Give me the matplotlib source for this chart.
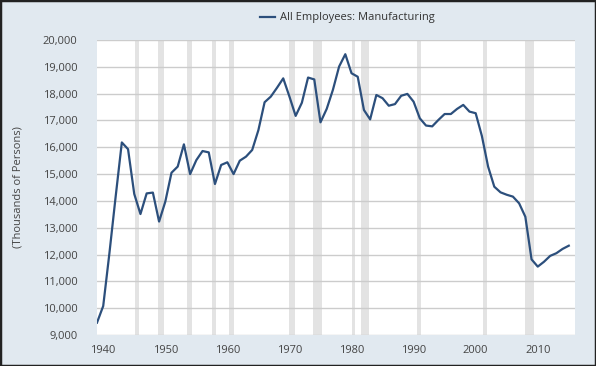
import numpy as np
import matplotlib.pyplot as plt
from matplotlib.patches import Rectangle
from matplotlib.ticker import FuncFormatter

# annual values, thousands of persons
years = list(range(1939, 2016))
employees = [
    9460, 10080, 12050, 14150, 16180, 15930, 14260, 13510, 14280, 14310,
    13230, 13970, 15050, 15280, 16110, 15000, 15520, 15860, 15810, 14630,
    15340, 15440, 15000, 15500, 15650, 15900, 16640, 17680, 17890, 18220,
    18570, 17890, 17170, 17660, 18600, 18530, 16930, 17430, 18140, 19010,
    19470, 18760, 18630, 17390, 17040, 17950, 17830, 17550, 17610, 17920,
    17990, 17700, 17080, 16810, 16780, 17020, 17240, 17240, 17430, 17580,
    17330, 17270, 16420, 15280, 14530, 14320, 14230, 14160, 13910, 13410,
    11820, 11550, 11730, 11950, 12050, 12210, 12330,
]

# NBER recessions as decimal years (start, end)
rec_start = [1945.08, 1948.83, 1953.5, 1957.58, 1960.25, 1969.92, 1973.83,
             1980.0, 1981.5, 1990.5, 2001.17, 2007.92]
rec_end = [1945.75, 1949.75, 1954.33, 1958.25, 1961.08, 1970.83, 1975.17,
           1980.5, 1982.83, 1991.17, 2001.83, 2009.42]

yticks = list(range(9000, 20001, 1000))
xticks = [1940, 1950, 1960, 1970, 1980, 1990, 2000, 2010]

plt.rcParams['font.family'] = ['Open Sans', 'DejaVu Sans']

bg = '#e1e9f0'
fig = plt.figure(figsize=(5.96, 3.66), dpi=100, facecolor=bg)
# plot area: x 97..575 px, y 40..335 px
ax = fig.add_axes([97 / 596, 1 - 335 / 366, 478 / 596, 295 / 366])
ax.set_facecolor('white')

for s, e in zip(rec_start, rec_end):
    ax.axvspan(s, e, color='#e3e3e3', lw=0, zorder=1)

line, = ax.plot(years, employees, color='#2c4f7c', lw=1.6, zorder=3,
                label='All Employees: Manufacturing')

ax.set_xlim(1939, 2016)
ax.set_ylim(9000, 20000)
ax.set_yticks(yticks)
ax.set_xticks(xticks)
ax.yaxis.set_major_formatter(FuncFormatter(lambda v, p: f'{int(v):,}'))
ax.grid(axis='y', color='#cccccc', lw=1, zorder=2)
ax.tick_params(length=0, labelsize=8, colors='#444444')
ax.tick_params(axis='y', pad=14)
ax.tick_params(axis='x', pad=7)
for sp in ax.spines.values():
    sp.set_visible(False)

ax.set_ylabel('(Thousands of Persons)', fontsize=8, color='#444444')
ax.yaxis.set_label_coords((24 - 97) / 478, 0.5)

fig.legend(handles=[line], loc='center', bbox_to_anchor=(0.583, 0.951),
           frameon=False, fontsize=8, handlelength=1.3, handletextpad=0.5,
           labelcolor='#333333')

# dark frame round the whole picture
fig.patches.append(Rectangle((0, 0), 1, 1, transform=fig.transFigure,
                             fill=False, edgecolor='#222222', lw=2.5))

fig.savefig('out.png', dpi=100, facecolor=bg)
